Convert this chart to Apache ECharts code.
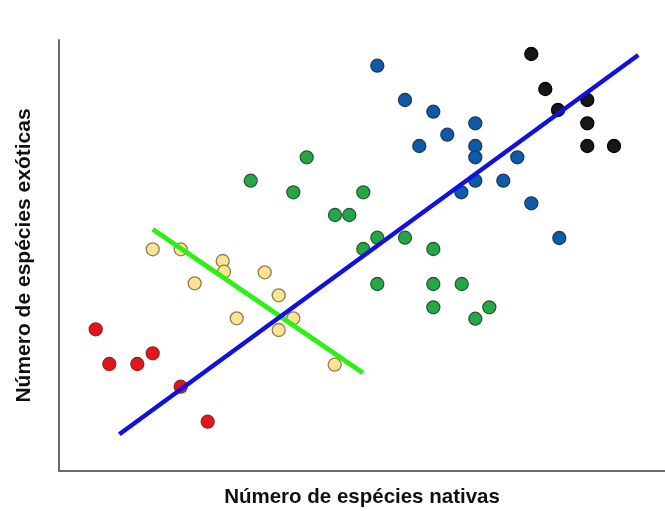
<!DOCTYPE html>
<html>
<head>
<meta charset="utf-8">
<script src="https://cdn.jsdelivr.net/npm/echarts@6/dist/echarts.min.js"></script>
<style>html,body{margin:0;padding:0;background:#fff;overflow:hidden;}#c{width:665px;height:511px;}</style>
</head>
<body>
<div id="c"></div>
<script>
const xTitle = 'Número de espécies nativas';
const yTitle = 'Número de espécies exóticas';
const redPts = [[36.7,141.7],[50.3,107],[78.3,107],[93.7,117.7],[121.7,84.3],[148.7,49.3]];
const yellowPts = [[93.7,221.7],[121.7,221.7],[163.7,210],[165,199.3],[135.7,187.7],[205.7,198.7],[219.7,175.7],[177.7,152.7],[234.3,152.7],[219.7,141],[275.7,106.3]];
const greenPts = [[247.7,313.7],[191.7,290.3],[234.3,278.7],[304.3,278.7],[276,256],[290.3,256],[318.3,233.3],[346,233.3],[304.3,222],[374.3,222],[318.3,187],[374.3,187],[402.7,187],[374.3,163.7],[430.3,163.7],[416.3,152.3]];
const bluePts = [[318.3,405.3],[346,371],[374.3,359.3],[416.3,347.7],[388.3,336.3],[360.3,325],[416.3,325],[416.3,313.7],[458.3,313.7],[416.3,290.3],[444.3,290.3],[402.3,278.7],[472.3,267.7],[500.3,233]];
const blackPts = [[472.3,417],[486.3,382],[499,361],[528.3,371],[528.3,347.7],[528.3,325],[555,325]];
const blueLine = [[60.3,36.7],[579.3,416]];
const greenLine = [[93.7,241.7],[303.7,98.3]];

function sc(data, fill, border) {
  return {type:'scatter', data:data, symbolSize:13, z:2,
    itemStyle:{color:fill, borderColor:border, borderWidth:1.3, opacity:1}};
}
const chart = echarts.init(document.getElementById('c'));
chart.setOption({
  animation:false,
  backgroundColor:'#fff',
  grid:{left:59, right:0, top:40, bottom:40, outerBoundsMode:'none', containLabel:false},
  xAxis:{type:'value', min:0, max:606, axisLine:{show:true, onZero:false, lineStyle:{color:'#6b6b6b', width:2}},
    axisTick:{show:false}, axisLabel:{show:false}, splitLine:{show:false},
    name:xTitle, nameLocation:'middle', nameGap:16,
    nameTextStyle:{fontFamily:'Liberation Sans', fontWeight:'bold', fontSize:20.5, color:'#111'}},
  yAxis:{type:'value', min:0, max:431, axisLine:{show:true, onZero:false, lineStyle:{color:'#6b6b6b', width:2}},
    axisTick:{show:false}, axisLabel:{show:false}, splitLine:{show:false},
    name:yTitle, nameLocation:'middle', nameGap:24, nameRotate:90,
    nameTextStyle:{fontFamily:'Liberation Sans', fontWeight:'bold', fontSize:21, color:'#111'}},
  series:[
    sc(redPts,'#e8141c','#8a2a20'),
    sc(yellowPts,'#fbe394','#8f7d4e'),
    sc(greenPts,'#23a747','#2c5a34'),
    sc(bluePts,'#0d5aa8','#1d3a5c'),
    sc(blackPts,'#171717','#000'),
    {type:'line', data:greenLine, symbol:'none', z:5, lineStyle:{color:'#2ef014', width:5}},
    {type:'line', data:blueLine, symbol:'none', z:6, lineStyle:{color:'#1010e0', width:4.5}}
  ]
});
</script>
</body>
</html>
